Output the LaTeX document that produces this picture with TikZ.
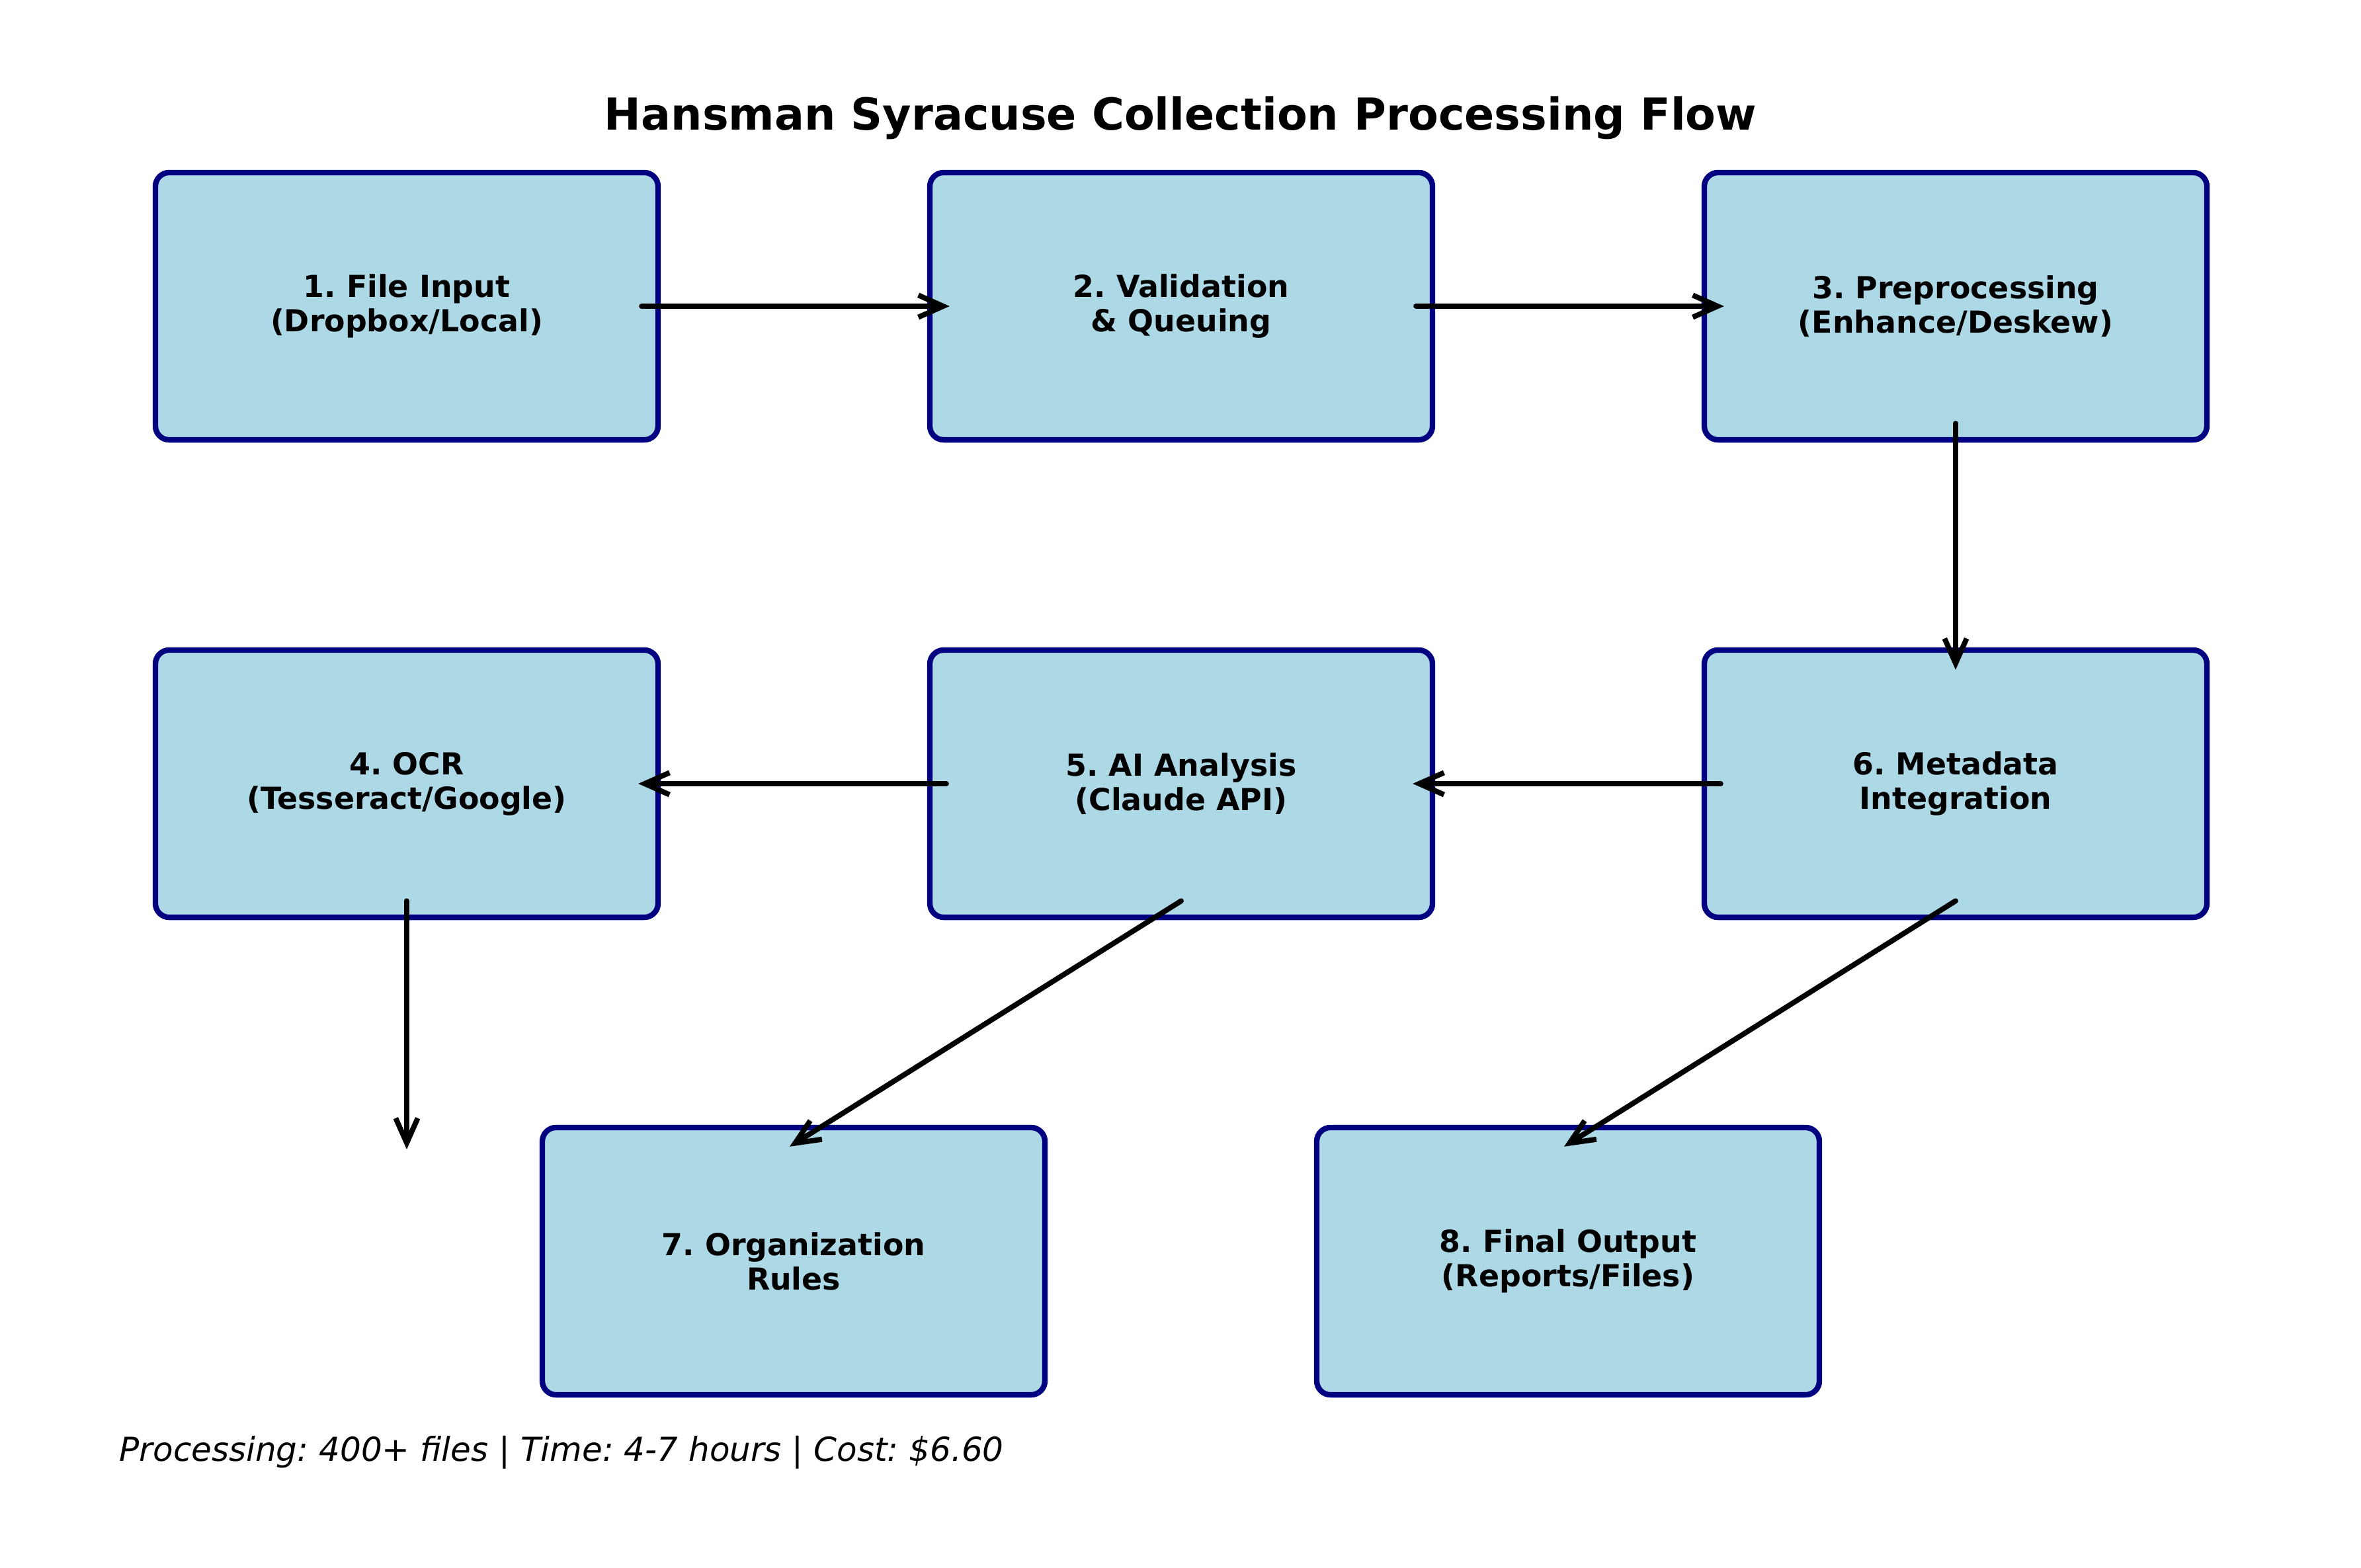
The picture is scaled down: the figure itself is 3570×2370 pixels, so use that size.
\documentclass[tikz,border=0pt]{standalone}
\usepackage{fontspec}
\setmainfont{DejaVu Sans}
\usetikzlibrary{arrows.meta,calc}
\definecolor{stagefill}{RGB}{173,216,230}
\definecolor{stageline}{RGB}{0,0,128}
\frenchspacing

\begin{document}
\begin{tikzpicture}[x=0.24pt,y=-0.24pt,
  stage/.style={draw=stageline,fill=stagefill,line width=2pt,rounded corners=5pt,
    minimum width=182.4pt,minimum height=97pt,inner sep=0pt,align=center,
    font=\fontsize{11}{12.5}\selectfont\bfseries},
  flow/.style={line width=1.9pt,line cap=round,-{Straight Barb[length=9pt,width=8pt]}}]
\useasboundingbox (0,0) rectangle (3570,2370);
\node[anchor=base,font=\fontsize{16}{19}\selectfont\bfseries] (title) at (1785,196) {Hansman Syracuse Collection Processing Flow};
\node[stage] (input) at (615,463) {1. File Input\\(Dropbox/Local)};
\node[stage] (valid) at (1786,463) {2. Validation\\\& Queuing};
\node[stage] (prep) at (2957,463) {3. Preprocessing\\(Enhance/Deskew)};
\node[stage] (ocr) at (615,1185) {4. OCR\\(Tesseract/Google)};
\node[stage] (ai) at (1786,1185) {5. AI Analysis\\(Claude API)};
\node[stage] (meta) at (2957,1185) {6. Metadata\\Integration};
\node[stage] (rules) at (1200,1907) {7. Organization\\Rules};
\node[stage] (output) at (2371,1907) {8. Final Output\\(Reports/Files)};
\coordinate (ocrend) at (615,1738);
\draw[flow] ($(input.east)+(-29,0)$) -- ($(valid.west)+(34,0)$);
\draw[flow] ($(valid.east)+(-29,0)$) -- ($(prep.west)+(34,0)$);
\draw[flow] ($(prep.south)+(0,-29)$) -- ($(meta.north)+(0,34)$);
\draw[flow] ($(meta.west)+(29,0)$) -- ($(ai.east)+(-34,0)$);
\draw[flow] ($(ai.west)+(29,0)$) -- ($(ocr.east)+(-34,0)$);
\draw[flow] ($(ocr.south)+(0,-29)$) -- (ocrend);
\draw[flow] ($(ai.south)+(0,-29)$) -- ($(rules.north)+(-6,33)$);
\draw[flow] ($(meta.south)+(0,-29)$) -- ($(output.north)+(-6,33)$);
\node[anchor=base west,font=\fontsize{12}{14}\selectfont\itshape] (stats) at (166,2209) {Processing: 400+ files | Time: 4-7 hours | Cost: \$6.60};
\end{tikzpicture}
\end{document}
